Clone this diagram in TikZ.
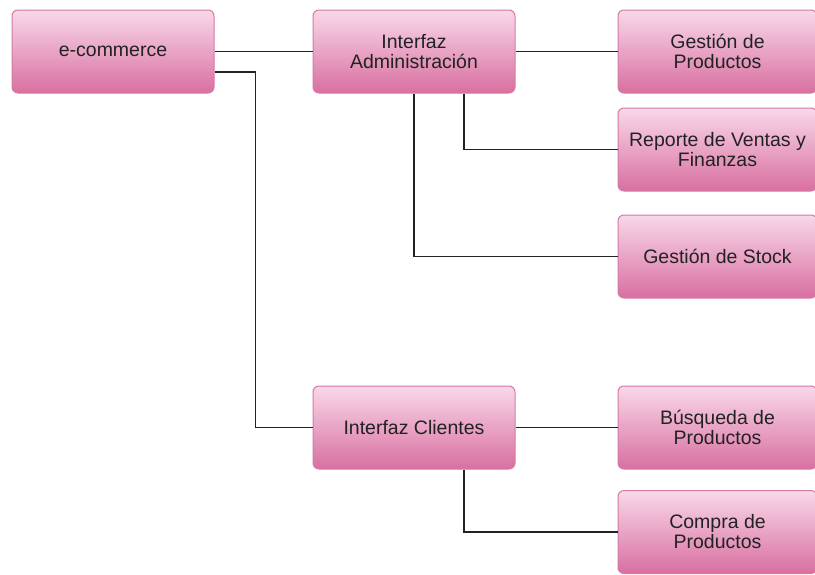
\documentclass[tikz,border=0pt]{standalone}
\usepackage{fontspec}
\setmainfont{Liberation Sans}
\usetikzlibrary{calc}
\definecolor{boxtop}{HTML}{F9D8EA}
\definecolor{boxbottom}{HTML}{D86FA0}
\definecolor{boxline}{HTML}{D47AA5}
\definecolor{txt}{HTML}{222222}
\definecolor{wire}{HTML}{222222}
\begin{document}
\begin{tikzpicture}[x=1pt,y=-1pt,
  box/.style={draw=boxline, line width=1pt, rounded corners=6pt,
    top color=boxtop, bottom color=boxbottom,
    minimum width=202pt, minimum height=83pt, inner sep=0pt,
    align=center, text=txt, font=\fontsize{19.5}{20}\selectfont},
  leaf/.style={box, minimum width=199pt},
  link/.style={draw=wire, line width=1.3pt}]
\useasboundingbox (0,0) rectangle (815,574);
% boxes
\node[box] (ecom) at (113,51.5) {e-commerce};
\node[box] (adm) at (414,51.5) {Interfaz\\Administración};
\node[box] (cli) at (414,427.5) {Interfaz Clientes};
\node[leaf] (gp) at (717.5,51.5) {Gestión de\\Productos};
\node[leaf] (rep) at (717.5,149.5) {Reporte de Ventas y\\Finanzas};
\node[leaf] (stock) at (717.5,256.5) {Gestión de Stock};
\node[leaf] (bus) at (717.5,427.5) {Búsqueda de\\Productos};
\node[leaf] (comp) at (717.5,532) {Compra de\\Productos};
% connectors
\coordinate (e2) at ($(ecom.east)+(0,20.5)$);
\draw[link] (ecom.east) -- (adm.west);
\draw[link] (e2) -- ++(41,0) |- (cli.west);
\draw[link] (adm.east) -- (gp.west);
\draw[link] ([xshift=50pt]adm.south) |- (rep.west);
\draw[link] (adm.south) |- (stock.west);
\draw[link] (cli.east) -- (bus.west);
\draw[link] ([xshift=50pt]cli.south) |- (comp.west);
\end{tikzpicture}
\end{document}
